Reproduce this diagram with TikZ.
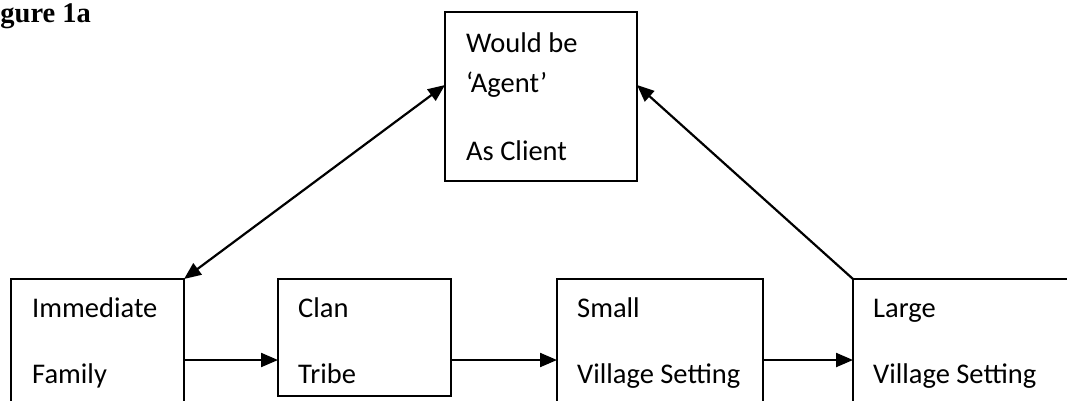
\documentclass[tikz,border=0pt]{standalone}
\usepackage{fontspec}
\setmainfont{Carlito}
\newfontfamily\titlefont{Liberation Serif}
\usetikzlibrary{arrows.meta}
\tikzset{
  box/.style={draw, line width=2pt, rectangle, inner sep=0pt, outer sep=0pt},
  lbl/.style={anchor=base west, inner sep=0pt, font=\fontsize{28.5}{34}\selectfont},
  tip/.style={Triangle[length=17pt,width=14pt]},
  arr/.style={line width=2.2pt, -{Triangle[length=17pt,width=14pt]}},
  darr/.style={line width=2.2pt, {Triangle[length=17pt,width=14pt]}-{Triangle[length=17pt,width=14pt]}}
}
\begin{document}
\begin{tikzpicture}[x=1pt, y=-1pt]
\useasboundingbox (0,0) rectangle (1067,400);
\clip (0,0) rectangle (1067,400);

% heading
\node[anchor=base west, inner sep=0pt, font=\titlefont\bfseries\fontsize{28.5}{34}\selectfont] (title) at (0.3,22) {gure 1a};

% boxes
\node[box, minimum width=192pt, minimum height=169pt, anchor=north west] (client) at (445,12) {};
\node[box, minimum width=173pt, minimum height=141pt, anchor=north west] (family) at (11,279) {};
\node[box, minimum width=173pt, minimum height=117pt, anchor=north west] (clan) at (278,279) {};
\node[box, minimum width=206pt, minimum height=141pt, anchor=north west] (small) at (557,279) {};
\node[box, minimum width=260pt, minimum height=141pt, anchor=north west] (large) at (853,279) {};

% texts
\node[lbl] (t1) at (466,52) {Would be};
\node[lbl] (t2) at (466,92) {‘Agent’};
\node[lbl] (t3) at (466,160) {As Client};
\node[lbl] (f1) at (32,317) {Immediate};
\node[lbl] (f2) at (32,383) {Family};
\node[lbl] (c1) at (298,317) {Clan};
\node[lbl] (c2) at (298,383) {Tribe};
\node[lbl] (s1) at (577,317) {Small};
\node[lbl] (s2) at (577,383) {Village Setting};
\node[lbl] (l1) at (873,317) {Large};
\node[lbl] (l2) at (873,383) {Village Setting};

% connectors
\coordinate (yline) at (0,360);
\draw[arr] (family.east |- yline) -- (clan.west |- yline);
\draw[arr] (clan.east |- yline) -- (small.west |- yline);
\draw[arr] (small.east |- yline) -- (large.west |- yline);
\coordinate (yup) at (0,85);
\draw[darr] (family.north east) -- (client.west |- yup);
\draw[arr] (large.north west) -- (client.east |- yup);
\end{tikzpicture}
\end{document}
